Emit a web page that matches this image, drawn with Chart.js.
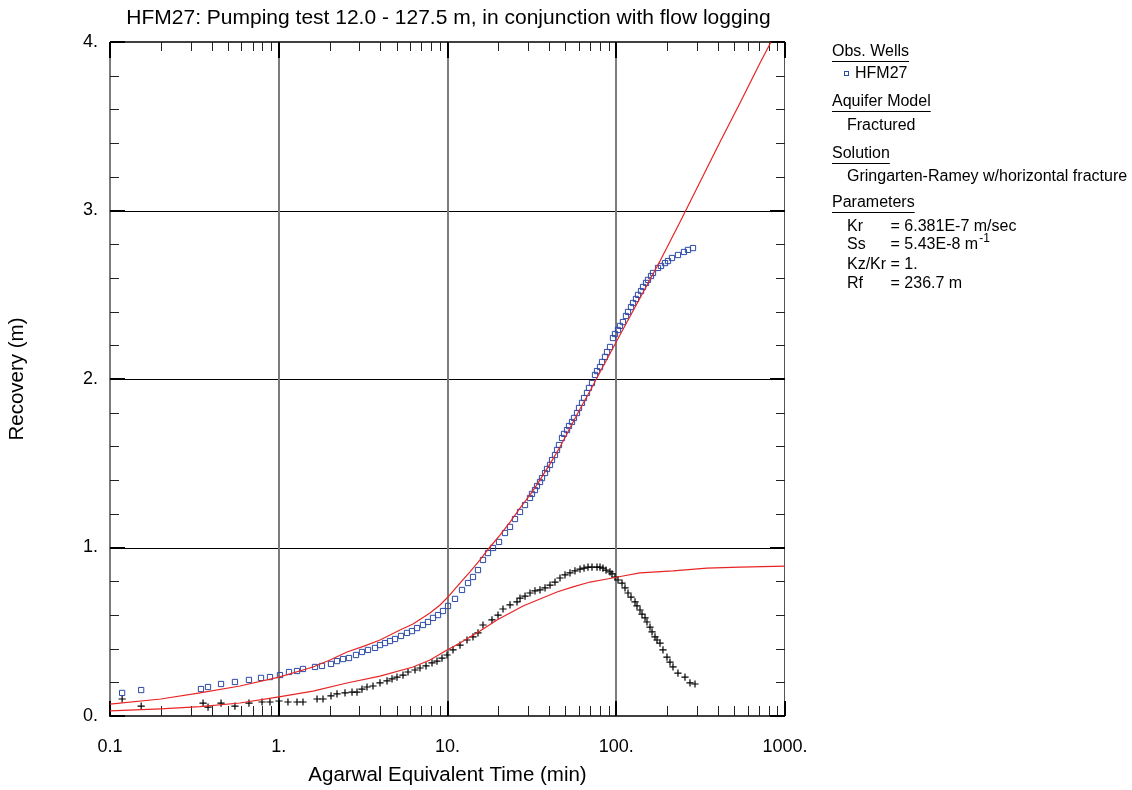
<!DOCTYPE html>
<html>
<head>
<meta charset="utf-8">
<script src="https://cdn.jsdelivr.net/npm/chart.js@4.4.1/dist/chart.umd.min.js"></script>
<style>
  html, body { margin: 0; padding: 0; background: #ffffff; }
  canvas { display: block; }
</style>
</head>
<body>
<canvas id="chart" width="1132" height="790"></canvas>
<script>
// ---- text ----
const chartTitle = 'HFM27: Pumping test 12.0 - 127.5 m, in conjunction with flow logging';
const xAxisTitle = 'Agarwal Equivalent Time (min)';
const yAxisTitle = 'Recovery (m)';

// ---- tick labels ----
const xTickValues = [0.1, 1, 10, 100, 1000];
const xTickLabels = ['0.1', '1.', '10.', '100.', '1000.'];
const yTickValues = [0, 1, 2, 3, 4];
const yTickLabels = ['0.', '1.', '2.', '3.', '4.'];

// ---- observed recovery, HFM27 (min, m) ----
const recoveryTime = [
  0.118, 0.153, 0.346, 0.381, 0.455, 0.550, 0.666, 0.785, 0.887, 1.017,
  1.150, 1.283, 1.392, 1.640, 1.804, 2.040, 2.214, 2.403, 2.608, 2.870,
  3.113, 3.380, 3.719, 3.981, 4.263, 4.564, 4.886, 5.302, 5.754, 6.160,
  6.597, 7.158, 7.662, 8.206, 8.786, 9.404, 10.07, 11.08, 12.19, 13.23,
  14.16, 15.16, 16.23, 17.38, 18.61, 20.20, 21.91, 23.47, 25.12, 26.90,
  28.80, 30.83, 31.67, 33.00, 33.91, 35.33, 36.31, 37.84, 38.88, 40.50,
  41.63, 43.35, 44.57, 45.78, 47.70, 49.03, 51.07, 52.48, 54.68, 56.19,
  58.55, 60.16, 62.66, 64.43, 67.09, 68.94, 71.83, 74.83, 76.90, 80.12,
  82.35, 85.77, 88.16, 91.83, 95.65, 98.31, 102.4, 105.2, 109.6, 114.2,
  117.4, 122.3, 125.7, 130.9, 134.6, 140.2, 144.1, 150.1, 154.2, 160.7,
  165.1, 176.8, 184.2, 194.5, 202.6, 214.0, 232.1, 252.0, 266.2, 285.0
];
const recovery = [
  0.137, 0.154, 0.160, 0.172, 0.190, 0.202, 0.214, 0.226, 0.231, 0.243,
  0.261, 0.267, 0.279, 0.291, 0.297, 0.309, 0.326, 0.338, 0.344, 0.362,
  0.380, 0.392, 0.404, 0.421, 0.433, 0.445, 0.457, 0.475, 0.493, 0.504,
  0.522, 0.540, 0.558, 0.582, 0.599, 0.623, 0.653, 0.695, 0.748, 0.789,
  0.825, 0.866, 0.926, 0.967, 0.997, 1.033, 1.086, 1.122, 1.169, 1.211,
  1.252, 1.294, 1.318, 1.341, 1.365, 1.389, 1.412, 1.442, 1.466, 1.490,
  1.519, 1.549, 1.579, 1.608, 1.650, 1.674, 1.697, 1.721, 1.745, 1.769,
  1.798, 1.828, 1.858, 1.887, 1.917, 1.947, 1.976, 2.024, 2.047, 2.071,
  2.101, 2.131, 2.160, 2.190, 2.243, 2.267, 2.291, 2.315, 2.338, 2.374,
  2.398, 2.427, 2.451, 2.475, 2.499, 2.522, 2.546, 2.570, 2.588, 2.611,
  2.629, 2.659, 2.671, 2.688, 2.700, 2.718, 2.736, 2.754, 2.766, 2.777
];

// ---- recovery derivative (min, m) ----
const derivTime = [
  0.118, 0.153, 0.356, 0.381, 0.455, 0.550, 0.666, 0.796, 0.887, 1.003,
  1.134, 1.283, 1.392, 1.686, 1.829, 2.040, 2.214, 2.470, 2.718, 2.909,
  3.113, 3.334, 3.618, 3.981, 4.381, 4.690, 5.021, 5.450, 5.835, 6.418,
  6.871, 7.457, 8.094, 8.666, 9.278, 9.932, 10.78, 11.86, 13.05, 14.16,
  15.16, 16.23, 18.35, 19.92, 21.33, 23.47, 25.82, 26.90, 28.80, 30.83,
  33.00, 35.33, 37.84, 40.50, 43.35, 46.42, 49.70, 53.20, 56.95, 60.99,
  64.43, 68.01, 71.83, 76.90, 80.12, 83.44, 86.99, 91.83, 94.36, 98.31,
  102.4, 108.2, 112.7, 117.4, 122.3, 129.2, 132.7, 138.3, 142.1, 148.1,
  152.1, 158.5, 162.9, 169.7, 174.4, 181.7, 189.2, 199.8, 208.2, 216.9,
  232.1, 255.5, 273.5, 292.9
];
const deriv = [
  0.101, 0.059, 0.077, 0.053, 0.077, 0.059, 0.077, 0.083, 0.083, 0.089,
  0.083, 0.083, 0.083, 0.101, 0.101, 0.119, 0.131, 0.137, 0.142, 0.142,
  0.160, 0.172, 0.178, 0.196, 0.208, 0.220, 0.231, 0.243, 0.261, 0.273,
  0.285, 0.297, 0.315, 0.326, 0.344, 0.362, 0.392, 0.421, 0.451, 0.469,
  0.493, 0.540, 0.570, 0.599, 0.635, 0.659, 0.677, 0.700, 0.712, 0.730,
  0.742, 0.748, 0.760, 0.777, 0.795, 0.819, 0.837, 0.849, 0.861, 0.872,
  0.878, 0.884, 0.884, 0.884, 0.884, 0.878, 0.866, 0.855, 0.843, 0.825,
  0.807, 0.789, 0.760, 0.730, 0.706, 0.677, 0.653, 0.629, 0.605, 0.582,
  0.558, 0.528, 0.499, 0.469, 0.451, 0.433, 0.392, 0.350, 0.320, 0.291,
  0.255, 0.231, 0.196, 0.190
];

// ---- Gringarten-Ramey type curve: recovery ----
const fitTime = [
  0.1, 0.2, 0.3415, 0.589, 1.003, 1.596, 2.012, 2.537, 3.201, 3.981,
  5.231, 6.246, 7.875, 9.028, 9.932, 11.86, 13.59, 15.58, 17.86, 20.47,
  23.47, 26.90, 30.83, 35.33, 40.50, 46.42, 53.20, 60.99, 69.89, 80.12,
  105.2, 138.3, 181.7, 238.7, 313.6, 411.9, 541.1, 711.1, 826.0
];
const fitRecovery = [
  0.071, 0.101, 0.137, 0.178, 0.231, 0.291, 0.332, 0.380, 0.415, 0.451,
  0.510, 0.546, 0.611, 0.659, 0.700, 0.789, 0.855, 0.926, 1.003, 1.074,
  1.151, 1.234, 1.312, 1.401, 1.496, 1.596, 1.709, 1.822, 1.929, 2.042,
  2.261, 2.481, 2.700, 2.932, 3.169, 3.407, 3.638, 3.875, 4.000
];

// ---- Gringarten-Ramey type curve: derivative ----
const fitDerivTime = [
  0.1, 0.2, 0.3415, 0.589, 1.003, 1.596, 2.537, 3.981, 6.246, 7.875,
  9.932, 11.86, 15.58, 19.65, 23.47, 28.03, 35.33, 44.57, 55.43, 69.89,
  88.16, 109.6, 138.3, 216.9, 345.0, 541.1, 1000
];
const fitDeriv = [
  0.030, 0.042, 0.056, 0.077, 0.113, 0.148, 0.196, 0.237, 0.291, 0.332,
  0.392, 0.433, 0.504, 0.570, 0.611, 0.653, 0.694, 0.736, 0.766, 0.795,
  0.813, 0.831, 0.849, 0.861, 0.878, 0.884, 0.890
];

// ---- legend panel text ----
const legendHeaders = ['Obs. Wells', 'Aquifer Model', 'Solution', 'Parameters'];
const wellName = 'HFM27';
const aquiferModel = 'Fractured';
const solutionName = 'Gringarten-Ramey w/horizontal fracture';
const paramNames = ['Kr', 'Ss', 'Kz/Kr', 'Rf'];
const paramValues = ['= 6.381E-7 m/sec', '= 5.43E-8 m', '= 1.', '= 236.7 m'];
const paramSuperscripts = ['', '-1', '', ''];

// ---- styling ----
const FONT = "'Liberation Sans', Arial, Helvetica, sans-serif";
const BLUE = 'rgb(44, 74, 166)';
const RED = 'rgb(232, 36, 36)';

const toPoints = (xs, ys) => xs.map((t, i) => ({ x: t, y: ys[i] }));

// Frame, grid, inward ticks, title and the legend panel
const decorations = {
  id: 'decorations',
  beforeDraw(chart) {
    const { ctx, width, height } = chart;
    ctx.save();
    ctx.fillStyle = '#ffffff';
    ctx.fillRect(0, 0, width, height);
    ctx.restore();
  },
  beforeDatasetsDraw(chart) {
    const { ctx, chartArea: a, scales: { x, y } } = chart;
    const line = (x1, y1, x2, y2) => { ctx.beginPath(); ctx.moveTo(x1, y1); ctx.lineTo(x2, y2); ctx.stroke(); };
    ctx.save();

    // horizontal grid lines at whole metres
    ctx.strokeStyle = '#000000';
    ctx.lineWidth = 1;
    yTickValues.slice(1, -1).forEach(v => {
      const py = Math.round(y.getPixelForValue(v)) + 0.5;
      line(a.left, py, a.right, py);
    });

    // vertical grid lines at decades (and left edge)
    ctx.strokeStyle = '#7c7c7c';
    ctx.lineWidth = 2;
    xTickValues.slice(0, -1).forEach(v => {
      const px = Math.round(x.getPixelForValue(v));
      line(px, a.top, px, a.bottom);
    });

    // remaining frame edges
    ctx.strokeStyle = '#000000';
    ctx.lineWidth = 1.5;
    line(a.left, a.top, a.right, a.top);
    line(a.left - 1, a.bottom, a.right, a.bottom);
    ctx.strokeStyle = '#555555';
    ctx.lineWidth = 1;
    line(a.right - 0.5, a.top, a.right - 0.5, a.bottom);

    // minor ticks on x (2..9 within each decade), top and bottom
    ctx.strokeStyle = '#222222';
    ctx.lineWidth = 1;
    for (let d = 0; d < xTickValues.length - 1; d++) {
      for (let m = 2; m <= 9; m++) {
        const px = Math.round(x.getPixelForValue(xTickValues[d] * m)) + 0.5;
        line(px, a.bottom, px, a.bottom - 10);
        line(px, a.top, px, a.top + 9);
      }
    }
    // minor ticks on y every 0.2 m, left and right
    for (let v = 0.2; v < 4; v += 0.2) {
      if (Math.abs(v - Math.round(v)) < 1e-6) continue;
      const py = Math.round(y.getPixelForValue(v)) + 0.5;
      line(a.left, py, a.left + 9, py);
      line(a.right, py, a.right - 9, py);
    }
    // major ticks
    ctx.strokeStyle = '#000000';
    ctx.lineWidth = 2;
    xTickValues.forEach(v => {
      const px = Math.round(x.getPixelForValue(v));
      line(px, a.bottom, px, a.bottom - 15);
      line(px, a.top, px, a.top + 16);
    });
    yTickValues.forEach(v => {
      const py = Math.round(y.getPixelForValue(v));
      line(a.left, py, a.left + 15, py);
      line(a.right, py, a.right - 15, py);
    });
    ctx.restore();
  },
  afterDraw(chart) {
    const { ctx, chartArea: a } = chart;
    ctx.save();
    ctx.fillStyle = '#000000';
    ctx.textBaseline = 'middle';

    // chart title
    ctx.font = `21px ${FONT}`;
    ctx.textAlign = 'center';
    ctx.fillText(chartTitle, (a.left + a.right) / 2 + 1, 18);

    // legend panel
    ctx.font = `16px ${FONT}`;
    ctx.textAlign = 'left';
    ctx.strokeStyle = '#000000';
    ctx.lineWidth = 1;
    const headerY = [52, 102, 154, 203];
    legendHeaders.forEach((h, i) => {
      ctx.fillText(h, 832, headerY[i]);
      const w = ctx.measureText(h).width;
      ctx.beginPath();
      ctx.moveTo(832, headerY[i] + 9.5);
      ctx.lineTo(832 + w, headerY[i] + 9.5);
      ctx.stroke();
    });

    // observation well entry with its marker
    ctx.strokeStyle = BLUE;
    ctx.strokeRect(844.5, 71.5, 4, 4);
    ctx.fillText(wellName, 855, 74);

    ctx.fillText(aquiferModel, 847, 126);
    ctx.fillText(solutionName, 847, 177);

    // parameter table; the "=" column follows the longest name
    const col = 847 + ctx.measureText(paramNames[2] + ' ').width;
    const rowY = [227, 245, 265, 284];
    paramNames.forEach((n, i) => {
      ctx.font = `16px ${FONT}`;
      ctx.fillText(n, 847, rowY[i]);
      ctx.fillText(paramValues[i], col, rowY[i]);
      if (paramSuperscripts[i]) {
        const w = ctx.measureText(paramValues[i]).width;
        ctx.font = `12px ${FONT}`;
        ctx.fillText(paramSuperscripts[i], col + w + 1, rowY[i] - 6);
      }
    });
    ctx.restore();
  }
};

new Chart(document.getElementById('chart'), {
  type: 'scatter',
  data: {
    datasets: [
      {
        label: 'Type curve',
        data: toPoints(fitTime, fitRecovery),
        showLine: true,
        borderColor: RED,
        borderWidth: 1.2,
        pointRadius: 0,
        tension: 0,
        order: 1
      },
      {
        label: 'Type curve derivative',
        data: toPoints(fitDerivTime, fitDeriv),
        showLine: true,
        borderColor: RED,
        borderWidth: 1.2,
        pointRadius: 0,
        tension: 0,
        order: 2
      },
      {
        label: wellName,
        data: toPoints(recoveryTime, recovery),
        showLine: false,
        pointStyle: 'rect',
        pointRadius: 3.7,
        borderColor: BLUE,
        backgroundColor: 'rgba(0,0,0,0)',
        borderWidth: 1,
        order: 3
      },
      {
        label: 'Derivative',
        data: toPoints(derivTime, deriv),
        showLine: false,
        pointStyle: 'cross',
        pointRadius: 3.6,
        borderColor: '#000000',
        borderWidth: 1.2,
        order: 4
      }
    ]
  },
  options: {
    responsive: false,
    animation: false,
    events: [],
    layout: { padding: { left: 0, right: 347, top: 42, bottom: 0 } },
    plugins: {
      legend: { display: false },
      tooltip: { enabled: false },
      title: { display: false }
    },
    scales: {
      x: {
        type: 'logarithmic',
        position: 'bottom',
        min: 0.1,
        max: 1000,
        afterFit(scale) { scale.height = 74; },
        afterBuildTicks(scale) { scale.ticks = xTickValues.map(v => ({ value: v })); },
        grid: { display: false, drawTicks: false },
        border: { display: false },
        ticks: {
          autoSkip: false,
          maxRotation: 0,
          padding: 20,
          color: '#000000',
          font: { family: FONT, size: 18 },
          callback: (value) => {
            const i = xTickValues.findIndex(v => Math.abs(v - value) < 1e-9 * Math.max(1, v));
            return i >= 0 ? xTickLabels[i] : '';
          }
        },
        title: {
          display: true,
          text: xAxisTitle,
          color: '#000000',
          font: { family: FONT, size: 20.5 },
          padding: { top: 0, bottom: 2 }
        }
      },
      y: {
        type: 'linear',
        position: 'left',
        min: 0,
        max: 4,
        afterFit(scale) { scale.width = 110; },
        afterBuildTicks(scale) { scale.ticks = yTickValues.map(v => ({ value: v })); },
        grid: { display: false, drawTicks: false },
        border: { display: false },
        ticks: {
          padding: 12,
          color: '#000000',
          font: { family: FONT, size: 18 },
          callback: (value) => {
            const i = yTickValues.indexOf(value);
            return i >= 0 ? yTickLabels[i] : '';
          }
        },
        title: {
          display: true,
          text: yAxisTitle,
          color: '#000000',
          font: { family: FONT, size: 20.5 },
          padding: { top: 5, bottom: 0 }
        }
      }
    }
  },
  plugins: [decorations]
});
</script>
</body>
</html>
